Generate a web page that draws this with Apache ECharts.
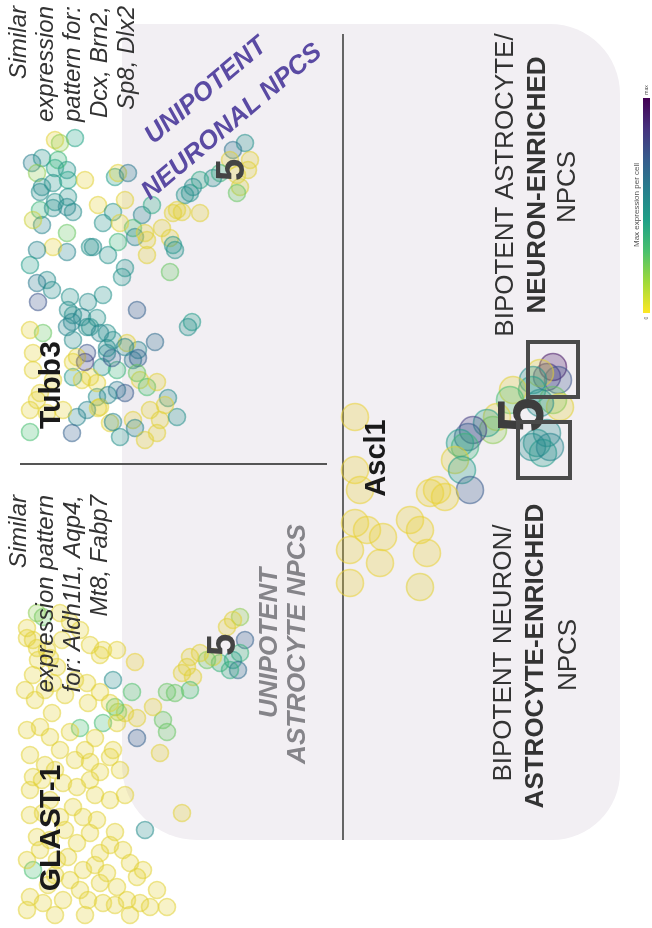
<!DOCTYPE html>
<html><head><meta charset="utf-8">
<script src="https://cdn.jsdelivr.net/npm/echarts@6/dist/echarts.min.js"></script>
<style>html,body{margin:0;padding:0;background:#fff}#c{width:652px;height:928px}</style>
</head><body><div id="c"></div>
<script>
// ---------- data: [x, y, expression(0..1)] in figure coordinates ----------
const tubb3Points = [
[55,140,0.05],[75,138,0.42],[60,143,0.2],[32,163,0.58],[42,158,0.5],[55,168,0.42],[67,170,0.5],[37,173,0.2],
[42,187,0.52],[53,183,0.5],[68,180,0.42],[85,180,0.05],[115,177,0.45],[118,173,0.05],[128,173,0.6],
[40,192,0.52],[55,202,0.5],[67,207,0.55],[40,210,0.35],[42,225,0.55],[53,208,0.52],[68,197,0.5],[73,212,0.52],
[98,205,0.05],[113,212,0.5],[103,223,0.5],[125,200,0.05],[142,215,0.55],[133,228,0.3],[120,223,0.05],
[135,237,0.55],[118,242,0.35],[108,255,0.5],[90,247,0.5],[67,233,0.25],[67,252,0.55],[53,247,0.05],[37,250,0.55],
[147,240,0.05],[147,255,0.05],[170,238,0.05],[175,250,0.5],[162,228,0.05],[173,213,0.05],[182,212,0.05],
[170,272,0.25],[125,268,0.5],[122,277,0.5],[47,280,0.52],[37,283,0.6],[38,302,0.75],[70,297,0.5],[88,302,0.52],
[103,295,0.5],[73,315,0.5],[82,317,0.55],[97,318,0.5],[137,310,0.7],[192,322,0.45],[190,193,0.5],[152,205,0.4],
[245,143,0.5],[233,150,0.62],[230,160,0.05],[250,160,0.05],[248,170,0.05],[237,175,0.05],[240,187,0.08],
[237,193,0.25],[220,173,0.35],[213,178,0.52],[200,180,0.4],[193,187,0.52],[185,195,0.5],[177,210,0.05],
[200,213,0.05],[173,245,0.48],[145,233,0.05],[93,247,0.52],
[52,290,0.52],[68,310,0.52],[72,322,0.55],[90,327,0.5],[107,333,0.5],[113,340,0.52],[155,342,0.65],
[138,350,0.55],[127,343,0.05],[87,353,0.75],[77,357,0.05],[107,353,0.55],[102,367,0.5],[90,377,0.05],
[73,377,0.48],[117,370,0.35],[133,360,0.6],[140,380,0.05],[147,387,0.3],[117,390,0.6],[125,393,0.72],
[97,397,0.52],[100,407,0.05],[87,410,0.55],[77,417,0.55],[72,433,0.7],[110,423,0.05],[150,410,0.05],
[160,420,0.05],[177,417,0.5],[157,433,0.05],[133,420,0.05],[47,413,0.05],[40,393,0.05],[53,380,0.05],
[33,353,0.05],[30,410,0.05],[188,327,0.5],[138,358,0.7],[112,358,0.72],[85,362,0.8],[73,362,0.05],
[137,373,0.25],[97,383,0.05],[82,380,0.05],[108,395,0.55],[168,398,0.52],[157,382,0.05],[98,408,0.05],
[113,422,0.55],[135,428,0.55],[63,410,0.05],[37,400,0.05],[33,370,0.05],[67,327,0.55],[87,327,0.52],
[100,333,0.55],[73,340,0.52],[43,333,0.25],[107,348,0.52],[125,347,0.55],[30,330,0.05],[30,432,0.3],
[165,405,0.05],[145,440,0.05],[120,437,0.5],[58,160,0.35],[33,220,0.1],[30,265,0.45]
];
const glastPoints = [
[240,617,0.2],[233,620,0.05],[227,627,0.05],[245,640,0.7],[240,653,0.35],[233,660,0.45],[238,670,0.65],
[230,670,0.38],[220,663,0.35],[213,657,0.05],[207,660,0.25],[200,653,0.05],[190,657,0.05],[187,667,0.05],
[182,673,0.05],[193,677,0.05],[190,690,0.3],[175,693,0.25],[167,692,0.25],[163,720,0.25],[167,732,0.25],
[160,753,0.05],[182,813,0.05],[145,830,0.52],[137,738,0.7],[153,707,0.05],[137,718,0.05],[125,713,0.05],
[115,707,0.3],[113,680,0.52],[132,692,0.28],[135,662,0.03],[103,723,0.32],[80,728,0.3],[118,712,0.2],
[117,723,0.05],[70,732,0.05],[95,738,0.05],[113,750,0.05],[110,757,0.05],[52,713,0.05],[40,727,0.05],
[50,737,0.05],[27,730,0.05],[103,650,0.05],[117,650,0.05],[100,655,0.05],[87,683,0.05],[100,692,0.05],
[88,703,0.05],[110,703,0.05],[125,795,0.05],[33,675,0.05],[27,638,0.05],[37,648,0.05],[50,658,0.05],
[53,683,0.05],[33,640,0.05],[47,650,0.05],[38,660,0.05],[57,667,0.05],[43,617,0.25],[60,613,0.05],
[27,628,0.05],[37,613,0.2],
[90,780,0.05],[77,787,0.05],[63,783,0.05],[33,870,0.3],[33,777,0.05],[30,790,0.05],[43,813,0.05],
[37,837,0.05],[73,807,0.05],[83,817,0.05],[90,833,0.05],[77,843,0.05],[68,857,0.05],[83,870,0.05],
[100,853,0.05],[115,832,0.05],[123,850,0.05],[107,873,0.05],[130,863,0.05],[143,870,0.05],[137,877,0.05],
[117,887,0.05],[100,883,0.05],[80,890,0.05],[63,900,0.05],[43,903,0.05],[30,897,0.05],[88,900,0.05],
[103,903,0.05],[127,900,0.05],[140,903,0.05],[157,890,0.05],[167,907,0.05],[150,907,0.05],[27,860,0.05],
[27,910,0.05],[57,860,0.05],[97,820,0.05],[60,817,0.05],
[30,755,0.05],[45,765,0.05],[60,750,0.05],[75,760,0.05],[90,762,0.05],[100,772,0.05],[35,700,0.05],
[65,695,0.05],[75,680,0.05],[62,640,0.05],[80,630,0.05],[90,645,0.05],[70,622,0.05],[25,690,0.05],
[45,690,0.05],[95,795,0.05],[110,800,0.05],[50,800,0.05],[40,850,0.05],[55,875,0.05],[70,880,0.05],
[115,905,0.05],[130,915,0.05],[85,915,0.05],[55,915,0.05],[65,830,0.05],[50,840,0.05],[110,845,0.05],
[42,780,0.05],[55,770,0.05],[85,750,0.05],[120,770,0.05],[30,815,0.05],[48,885,0.05],[95,865,0.05]
];
const ascl1Points = [
[553,367,0.95],[547,377,0.85],[558,380,0.75],[540,373,0.05],[533,380,0.5],[532,390,0.45],[513,390,0.05],
[510,400,0.3],[497,417,0.05],[493,430,0.2],[487,423,0.45],[553,400,0.25],[560,407,0.05],[540,403,0.52],
[547,433,0.52],[537,443,0.5],[543,453,0.45],[532,447,0.52],[550,447,0.55],[473,430,0.82],[468,437,0.72],
[460,443,0.45],[465,447,0.35],[455,460,0.05],[462,470,0.45],[470,490,0.72],[437,490,0.03],[430,493,0.03],
[445,497,0.03],[410,520,0.03],[420,530,0.03],[427,553,0.03],[383,537,0.03],[380,563,0.03],[367,530,0.03],
[355,523,0.03],[355,417,0.03],[355,470,0.03],[420,587,0.05],[350,583,0.03],[360,490,0.03],[350,550,0.03]
];
const colorbarLabels = ['max', '0'];

// ---------- helpers ----------
const VIR = [[246,208,46],[185,210,62],[74,193,109],[31,161,135],[39,127,142],[54,92,141],[70,50,126],[68,1,84]];
function vir(v){
  const t = Math.max(0,Math.min(1,v))*(VIR.length-1);
  const i = Math.min(VIR.length-2, Math.floor(t)), f = t-i;
  return VIR[i].map((c,k)=>Math.round(c+(VIR[i+1][k]-c)*f));
}
function items(arr){
  return arr.map(p=>{const c=vir(p[2]);return {value:p,itemStyle:{
    color:`rgba(${c[0]},${c[1]},${c[2]},0.34)`,borderColor:`rgba(${c[0]},${c[1]},${c[2]},0.68)`,borderWidth:1.6}};});
}
const FONT = '"Liberation Sans", Arial, Helvetica, sans-serif';
const R = Math.PI/2;
function txt(x,y,text,o){
  o=o||{};
  return {type:'text',x:x,y:y,rotation:o.rot===undefined?R:o.rot,z:20,
    style:{text:text,fontFamily:FONT,fontSize:o.size||24,fontWeight:o.bold?'bold':'normal',
      fontStyle:o.italic?'italic':'normal',fill:o.color||'#2b2b2b',
      textAlign:o.align||'center',textVerticalAlign:'middle'}};
}
function grid(l,t,w,h){return {left:l,top:t,width:w,height:h};}
function xa(i,l,w){return {gridIndex:i,type:'value',min:l,max:l+w,show:false};}
function ya(i,t,h){return {gridIndex:i,type:'value',min:t,max:t+h,inverse:true,show:false};}

const grids=[grid(28,0,312,443),grid(22,466,318,451),grid(345,290,275,350)];
const chart = echarts.init(document.getElementById('c'),null,{renderer:'canvas'});
const g = [];
// background panel
g.push({type:'rect',z:-5,shape:{x:122,y:24,width:498,height:816,r:[8,70,68,75]},style:{fill:'#f2eff3'}});
// dividers
g.push({type:'line',z:1,shape:{x1:343,y1:34,x2:343,y2:840},style:{stroke:'#555',lineWidth:1.8}});
g.push({type:'line',z:1,shape:{x1:20,y1:464,x2:327,y2:464},style:{stroke:'#555',lineWidth:1.8}});
// colorbar
g.push({type:'rect',z:1,shape:{x:643,y:98,width:7,height:215},style:{fill:new echarts.graphic.LinearGradient(0,0,0,1,
  [[68,1,84],[70,50,126],[54,92,141],[39,127,142],[31,161,135],[74,193,109],[160,218,57],[253,231,37]]
  .map((c,i,a)=>({offset:i/(a.length-1),color:`rgb(${c[0]},${c[1]},${c[2]})`})))}});
g.push(txt(647,90,colorbarLabels[0],{size:5,color:'#555'}));
g.push(txt(647,318,colorbarLabels[1],{size:5,color:'#555'}));
g.push(txt(637,205,'Max expression per cell',{size:8,color:'#555'}));
// Tubb3 panel text
g.push(txt(52,385,'Tubb3',{size:30,bold:true,color:'#1a1a1a'}));
['Similar','expression','pattern for:','Dcx, Brn2,','Sp8, Dlx2'].forEach((s,i)=>g.push(txt(19+27*i,6,s,{italic:true,align:'right',color:'#333'})));
g.push(txt(206,91,'UNIPOTENT',{size:26,bold:true,italic:true,color:'#5a4aa3',rot:0.70}));
g.push(txt(232,122,'NEURONAL NPCS',{size:26,bold:true,italic:true,color:'#5a4aa3',rot:0.70}));
g.push(txt(233,170,'5',{size:40,bold:true,color:'#444'}));
// GLAST panel text
g.push(txt(52,828,'GLAST-1',{size:30,bold:true,color:'#1a1a1a'}));
['Similar','expression pattern','for: Aldh1l1, Aqp4,','Mt8, Fabp7'].forEach((s,i)=>g.push(txt(19+27*i,495,s,{italic:true,align:'right',color:'#333'})));
g.push(txt(270,643,'UNIPOTENT',{size:26,bold:true,italic:true,color:'#858489'}));
g.push(txt(298,644,'ASTROCYTE NPCS',{size:26,bold:true,italic:true,color:'#858489'}));
g.push(txt(224,645,'5',{size:40,bold:true,color:'#444'}));
// Ascl1 panel text
g.push(txt(377,458,'Ascl1',{size:29,bold:true,color:'#1a1a1a'}));
g.push(txt(506,185,'BIPOTENT ASTROCYTE/',{size:26,color:'#333'}));
g.push(txt(538,185,'NEURON-ENRICHED',{size:26,bold:true,color:'#333'}));
g.push(txt(568,187,'NPCS',{size:26,color:'#333'}));
g.push(txt(504,653,'BIPOTENT NEURON/',{size:26,color:'#333'}));
g.push(txt(536,656,'ASTROCYTE-ENRICHED',{size:26,bold:true,color:'#333'}));
g.push(txt(569,655,'NPCS',{size:26,color:'#333'}));
g.push(txt(525,415,'5',{size:64,bold:true,color:'#3d3d3d'}));
g.push({type:'rect',z:20,shape:{x:528,y:342,width:50,height:55},style:{fill:'none',stroke:'#4a4a4a',lineWidth:4}});
g.push({type:'rect',z:20,shape:{x:518,y:422,width:52,height:56},style:{fill:'none',stroke:'#4a4a4a',lineWidth:4}});

chart.setOption({
  animation:false,
  grid:grids,
  xAxis:[xa(0,28,312),xa(1,22,318),xa(2,345,275)],
  yAxis:[ya(0,0,443),ya(1,466,451),ya(2,290,350)],
  graphic:{elements:g},
  series:[
    {type:'scatter',xAxisIndex:0,yAxisIndex:0,symbolSize:17,clip:true,data:items(tubb3Points)},
    {type:'scatter',xAxisIndex:1,yAxisIndex:1,symbolSize:17,clip:true,data:items(glastPoints)},
    {type:'scatter',xAxisIndex:2,yAxisIndex:2,symbolSize:27,clip:true,data:items(ascl1Points)}
  ]
});
</script></body></html>
